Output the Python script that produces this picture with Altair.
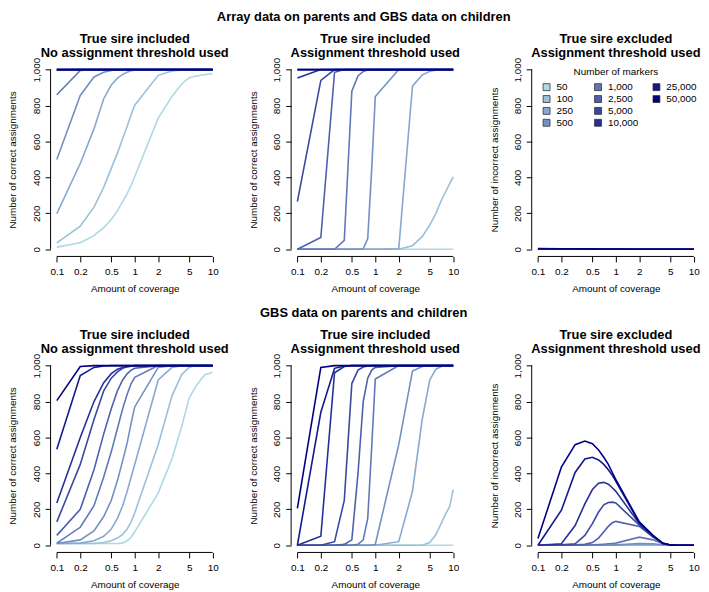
import altair as alt
import pandas as pd

COVERAGE = [0.1, 0.2, 0.3, 0.4, 0.5, 0.6, 0.7, 0.8, 0.9, 1, 2, 3, 4, 5, 6, 7, 8, 9, 10]
MARKERS = ["50", "100", "250", "500", "1,000", "2,500", "5,000", "10,000", "25,000", "50,000"]
COLORS = ["#ADD8E6", "#9AC0DB", "#87A8CF", "#7390C4", "#6078B9",
          "#4D60AD", "#3A48A2", "#263097", "#13188B", "#000080"]
X_TICKS = [0.1, 0.2, 0.5, 1, 2, 5, 10]
Y_TICKS = [0, 200, 400, 600, 800, 1000]

ARRAY_INC_NOTHR = [
    [12, 36, 76, 120, 165, 215, 265, 310, 355, 405, 730, 850, 920, 955, 963, 968, 972, 975, 977],
    [36, 128, 234, 345, 450, 535, 615, 685, 750, 802, 968, 992, 998, 1000, 1000, 1000, 1000, 1000, 1000],
    [198, 477, 670, 838, 914, 952, 973, 985, 993, 998, 1000, 1000, 1000, 1000, 1000, 1000, 1000, 1000, 1000],
    [500, 856, 959, 985, 995, 999, 1000, 1000, 1000, 1000, 1000, 1000, 1000, 1000, 1000, 1000, 1000, 1000, 1000],
    [860, 995, 1000, 1000, 1000, 1000, 1000, 1000, 1000, 1000, 1000, 1000, 1000, 1000, 1000, 1000, 1000, 1000, 1000],
    [997, 1000, 1000, 1000, 1000, 1000, 1000, 1000, 1000, 1000, 1000, 1000, 1000, 1000, 1000, 1000, 1000, 1000, 1000],
    [1000, 1000, 1000, 1000, 1000, 1000, 1000, 1000, 1000, 1000, 1000, 1000, 1000, 1000, 1000, 1000, 1000, 1000, 1000],
    [1000, 1000, 1000, 1000, 1000, 1000, 1000, 1000, 1000, 1000, 1000, 1000, 1000, 1000, 1000, 1000, 1000, 1000, 1000],
    [1000, 1000, 1000, 1000, 1000, 1000, 1000, 1000, 1000, 1000, 1000, 1000, 1000, 1000, 1000, 1000, 1000, 1000, 1000],
    [1000, 1000, 1000, 1000, 1000, 1000, 1000, 1000, 1000, 1000, 1000, 1000, 1000, 1000, 1000, 1000, 1000, 1000, 1000],
]

ARRAY_INC_THR = [
    [0, 0, 0, 0, 0, 0, 0, 0, 0, 0, 0, 0, 0, 0, 0, 0, 0, 0, 0],
    [0, 0, 0, 0, 0, 0, 0, 0, 0, 0, 0, 20, 70, 135, 200, 270, 320, 365, 403],
    [0, 0, 0, 0, 0, 0, 0, 0, 0, 0, 3, 908, 970, 990, 998, 1000, 1000, 1000, 1000],
    [0, 0, 0, 0, 0, 0, 3, 60, 450, 850, 1000, 1000, 1000, 1000, 1000, 1000, 1000, 1000, 1000],
    [0, 0, 0, 50, 880, 965, 990, 998, 1000, 1000, 1000, 1000, 1000, 1000, 1000, 1000, 1000, 1000, 1000],
    [0, 65, 985, 1000, 1000, 1000, 1000, 1000, 1000, 1000, 1000, 1000, 1000, 1000, 1000, 1000, 1000, 1000, 1000],
    [265, 940, 1000, 1000, 1000, 1000, 1000, 1000, 1000, 1000, 1000, 1000, 1000, 1000, 1000, 1000, 1000, 1000, 1000],
    [953, 1000, 1000, 1000, 1000, 1000, 1000, 1000, 1000, 1000, 1000, 1000, 1000, 1000, 1000, 1000, 1000, 1000, 1000],
    [1000, 1000, 1000, 1000, 1000, 1000, 1000, 1000, 1000, 1000, 1000, 1000, 1000, 1000, 1000, 1000, 1000, 1000, 1000],
    [1000, 1000, 1000, 1000, 1000, 1000, 1000, 1000, 1000, 1000, 1000, 1000, 1000, 1000, 1000, 1000, 1000, 1000, 1000],
]

ARRAY_EXC_THR = [
    [0, 0, 0, 0, 0, 0, 0, 0, 0, 0, 0, 0, 0, 0, 0, 0, 0, 0, 0],
    [0, 0, 0, 0, 0, 0, 0, 0, 0, 0, 0, 0, 0, 0, 0, 0, 0, 0, 0],
    [0, 0, 0, 0, 0, 0, 0, 0, 0, 0, 0, 0, 0, 0, 0, 0, 0, 0, 0],
    [0, 0, 0, 0, 0, 0, 0, 0, 0, 0, 0, 0, 0, 0, 0, 0, 0, 0, 0],
    [0, 0, 0, 0, 0, 0, 0, 0, 0, 0, 0, 0, 0, 0, 0, 0, 0, 0, 0],
    [0, 0, 0, 0, 0, 0, 0, 0, 0, 0, 0, 0, 0, 0, 0, 0, 0, 0, 0],
    [0, 0, 0, 0, 0, 0, 0, 0, 0, 0, 0, 0, 0, 0, 0, 0, 0, 0, 0],
    [1, 0, 0, 0, 0, 0, 0, 0, 0, 0, 0, 0, 0, 0, 0, 0, 0, 0, 0],
    [2, 1, 1, 1, 0, 0, 0, 0, 0, 0, 0, 0, 0, 0, 0, 0, 0, 0, 0],
    [4, 3, 3, 2, 2, 1, 1, 1, 1, 1, 0, 0, 0, 0, 0, 0, 0, 0, 0],
]

GBS_INC_NOTHR = [
    [10, 10, 10, 10, 10, 10, 12, 25, 45, 75, 290, 480, 660, 820, 880, 920, 950, 955, 965],
    [10, 10, 10, 15, 25, 40, 60, 90, 130, 180, 560, 830, 950, 990, 1000, 1000, 1000, 1000, 1000],
    [10, 12, 25, 50, 90, 150, 220, 300, 380, 450, 920, 990, 1000, 1000, 1000, 1000, 1000, 1000, 1000],
    [10, 30, 80, 160, 250, 360, 470, 570, 680, 770, 990, 1000, 1000, 1000, 1000, 1000, 1000, 1000, 1000],
    [12, 100, 220, 380, 520, 650, 760, 840, 900, 935, 1000, 1000, 1000, 1000, 1000, 1000, 1000, 1000, 1000],
    [55, 200, 420, 620, 760, 860, 920, 955, 975, 985, 1000, 1000, 1000, 1000, 1000, 1000, 1000, 1000, 1000],
    [130, 450, 700, 860, 930, 965, 985, 993, 997, 1000, 1000, 1000, 1000, 1000, 1000, 1000, 1000, 1000, 1000],
    [235, 600, 800, 905, 955, 980, 990, 995, 998, 1000, 1000, 1000, 1000, 1000, 1000, 1000, 1000, 1000, 1000],
    [535, 945, 990, 998, 1000, 1000, 1000, 1000, 1000, 1000, 1000, 1000, 1000, 1000, 1000, 1000, 1000, 1000, 1000],
    [805, 995, 1000, 1000, 1000, 1000, 1000, 1000, 1000, 1000, 1000, 1000, 1000, 1000, 1000, 1000, 1000, 1000, 1000],
]

GBS_INC_THR = [
    [0, 0, 0, 0, 0, 0, 0, 0, 0, 0, 0, 0, 0, 0, 0, 0, 0, 0, 0],
    [0, 0, 0, 0, 0, 0, 0, 0, 0, 0, 0, 0, 0, 15, 60, 120, 175, 215, 310],
    [0, 0, 0, 0, 0, 0, 0, 0, 0, 0, 20, 300, 700, 920, 980, 995, 1000, 1000, 1000],
    [0, 0, 0, 0, 0, 0, 0, 0, 0, 5, 560, 970, 995, 1000, 1000, 1000, 1000, 1000, 1000],
    [0, 0, 0, 0, 0, 5, 30, 150, 550, 925, 1000, 1000, 1000, 1000, 1000, 1000, 1000, 1000, 1000],
    [0, 0, 0, 5, 30, 400, 800, 930, 975, 990, 1000, 1000, 1000, 1000, 1000, 1000, 1000, 1000, 1000],
    [0, 0, 20, 250, 900, 975, 992, 998, 1000, 1000, 1000, 1000, 1000, 1000, 1000, 1000, 1000, 1000, 1000],
    [0, 50, 960, 995, 1000, 1000, 1000, 1000, 1000, 1000, 1000, 1000, 1000, 1000, 1000, 1000, 1000, 1000, 1000],
    [0, 740, 985, 998, 1000, 1000, 1000, 1000, 1000, 1000, 1000, 1000, 1000, 1000, 1000, 1000, 1000, 1000, 1000],
    [205, 990, 1000, 1000, 1000, 1000, 1000, 1000, 1000, 1000, 1000, 1000, 1000, 1000, 1000, 1000, 1000, 1000, 1000],
]

GBS_EXC_THR = [
    [0, 0, 0, 0, 0, 0, 0, 0, 0, 0, 0, 0, 0, 0, 0, 0, 0, 0, 0],
    [0, 0, 0, 0, 0, 0, 0, 0, 0, 0, 1, 1, 0, 0, 0, 0, 0, 0, 0],
    [0, 0, 0, 0, 0, 0, 0, 0, 0, 0, 3, 3, 1, 0, 0, 0, 0, 0, 0],
    [0, 0, 0, 0, 0, 0, 0, 1, 1, 2, 10, 8, 3, 0, 0, 0, 0, 0, 0],
    [0, 0, 0, 0, 2, 4, 6, 8, 10, 12, 45, 30, 8, 1, 0, 0, 0, 0, 0],
    [0, 0, 2, 5, 15, 40, 75, 105, 125, 133, 105, 45, 10, 2, 0, 0, 0, 0, 0],
    [0, 2, 8, 55, 120, 185, 225, 238, 240, 235, 112, 48, 10, 2, 0, 0, 0, 0, 0],
    [0, 8, 110, 230, 310, 345, 350, 340, 320, 300, 120, 50, 10, 2, 0, 0, 0, 0, 0],
    [0, 195, 405, 480, 490, 475, 450, 420, 390, 355, 125, 52, 11, 2, 0, 0, 0, 0, 0],
    [38, 435, 560, 580, 565, 530, 490, 450, 405, 365, 130, 55, 12, 2, 0, 0, 0, 0, 0],
]

PANEL_DATA = {
    "a1": ARRAY_INC_NOTHR, "a2": ARRAY_INC_THR, "a3": ARRAY_EXC_THR,
    "g1": GBS_INC_NOTHR, "g2": GBS_INC_THR, "g3": GBS_EXC_THR,
}

rows = []
for key, series in PANEL_DATA.items():
    for m, vals in zip(MARKERS, series):
        for c, v in zip(COVERAGE, vals):
            rows.append({"panel": key, "markers": m, "coverage": c, "value": v})
df = pd.DataFrame(rows)

FONT = "Liberation Sans"
W, H = 170, 196
X_LO, X_HI = 10 ** -1.08, 10 ** 1.08
Y_LO, Y_HI = -40, 1040

xscale = alt.Scale(type="log", domain=[X_LO, X_HI], nice=False)
yscale = alt.Scale(domain=[Y_LO, Y_HI], nice=False, zero=False)
cscale = alt.Scale(domain=MARKERS, range=COLORS)


def make_panel(key, title_lines, ytitle, legend=False):
    xaxis = alt.Axis(values=X_TICKS, format="~g", title="Amount of coverage", domain=False, grid=False,
                     tickSize=5.5, tickColor="black", tickWidth=1, labelPadding=5, labelFontSize=10,
                     labelColor="black", labelFont=FONT, labelOverlap=False, labelFlush=False,
                     titleFontSize=10, titleFontWeight="normal", titleFont=FONT, titleColor="black",
                     titleX=W / 2, titleY=35, titleBaseline="alphabetic", titleAlign="center")
    yaxis = alt.Axis(values=Y_TICKS, format=",d", title=ytitle, domain=False, grid=False,
                     tickSize=5.5, tickColor="black", tickWidth=1, labelPadding=6, labelFontSize=10,
                     labelColor="black", labelFont=FONT, labelAngle=-90, labelAlign="center",
                     labelBaseline="alphabetic", labelOverlap=False, labelFlush=False, labelSeparation=0,
                     titleFontSize=10, titleFontWeight="normal", titleFont=FONT, titleColor="black",
                     titleX=-35, titleY=H / 2, titleAngle=-90, titleBaseline="alphabetic", titleAlign="center")
    lines = alt.Chart(df[df.panel == key]).mark_line(strokeWidth=1.6).encode(
        x=alt.X("coverage:Q", scale=xscale, axis=xaxis),
        y=alt.Y("value:Q", scale=yscale, axis=yaxis),
        color=alt.Color("markers:N", scale=cscale, legend=None),
    )
    one = alt.Chart(pd.DataFrame({"k": [0]}))
    xline = one.mark_rule(color="black", strokeWidth=1).encode(
        x=alt.XDatum(X_TICKS[0], axis=xaxis), x2=alt.X2Datum(X_TICKS[-1]),
        y=alt.YDatum(Y_LO, axis=yaxis))
    yline = one.mark_rule(color="black", strokeWidth=1).encode(
        x=alt.XDatum(X_LO, axis=xaxis), y=alt.YDatum(Y_TICKS[0], axis=yaxis),
        y2=alt.Y2Datum(Y_TICKS[-1]))
    layers = [lines, xline, yline]
    if legend:
        groups = [(MARKERS[0:4], COLORS[0:4], 10, 20, None),
                  (MARKERS[4:8], COLORS[4:8], 42, 5, "Number of markers"),
                  (MARKERS[8:10], COLORS[8:10], 121, 20, None)]
        legdf = pd.DataFrame({"markers": MARKERS})
        for labs, cols, lx, ly, ttl in groups:
            leg = alt.Legend(orient="none", legendX=lx, legendY=ly, direction="vertical",
                             symbolType="square", symbolSize=49, symbolStrokeColor="#333333",
                             symbolStrokeWidth=0.8, labelFontSize=10, labelFont=FONT,
                             labelColor="black", labelOffset=5, rowPadding=0, padding=0,
                             title=ttl, titleFontSize=10, titleFontWeight="normal", titleFont=FONT,
                             titleColor="black", titleAnchor="middle", titlePadding=5)
            layers.append(
                alt.Chart(legdf).transform_filter("false").mark_square(opacity=1, filled=True).encode(
                    fill=alt.Fill("markers:N", scale=alt.Scale(domain=labs, range=cols), legend=leg)))
    ch = alt.layer(*layers)
    if legend:
        ch = ch.resolve_scale(fill="independent")
    return ch.properties(
        width=W, height=H,
        title=alt.TitleParams(text=title_lines, fontSize=13, fontWeight="bold", font=FONT,
                              color="black", anchor="middle", frame="group", lineHeight=14,
                              baseline="bottom", offset=-15.5))


T1 = ["True sire included", "No assignment threshold used"]
T2 = ["True sire included", "Assignment threshold used"]
T3 = ["True sire excluded", "Assignment threshold used"]
YC = "Number of correct assignments"
YI = "Number of incorrect assignments"

S = 73


def heading(text):
    return alt.TitleParams(text=text, fontSize=13, fontWeight="bold", font=FONT, color="black",
                           anchor="middle", frame="bounds", baseline="bottom", offset=-4, dx=9.5)


row1 = alt.hconcat(make_panel("a1", T1, YC), make_panel("a2", T2, YC), make_panel("a3", T3, YI, legend=True),
                   spacing=S, bounds="flush",
                   title=heading("Array data on parents and GBS data on children"))
row2 = alt.hconcat(make_panel("g1", T1, YC), make_panel("g2", T2, YC), make_panel("g3", T3, YI),
                   spacing=S, bounds="flush",
                   title=heading("GBS data on parents and children"))

chart = alt.vconcat(row1, row2, spacing=14, padding=0).configure_view(strokeWidth=0)

chart.save("out.html", embed_options={"renderer": "svg", "actions": False})
